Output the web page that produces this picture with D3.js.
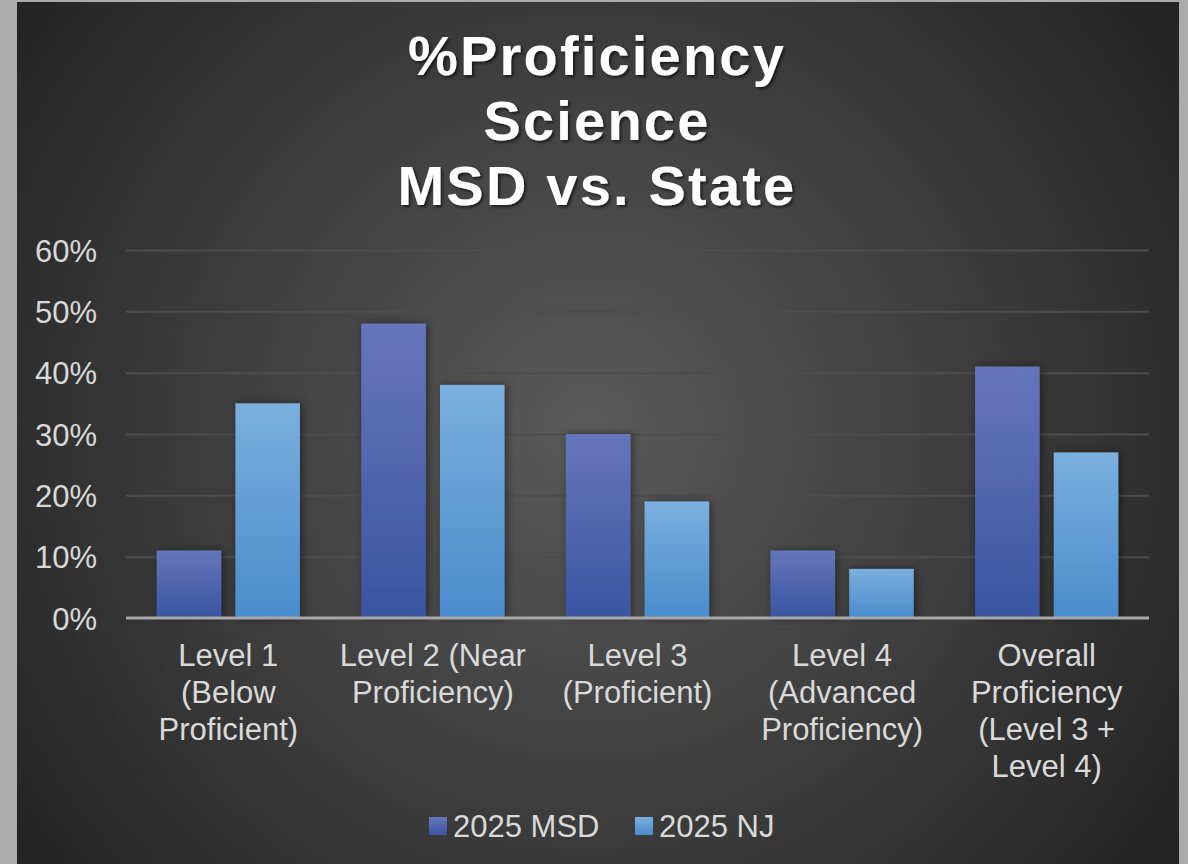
<!DOCTYPE html>
<html>
<head>
<meta charset="utf-8">
<script src="https://cdn.jsdelivr.net/npm/d3@7"></script>
<style>
  body { margin: 0; background: #ababab; }
  text { font-family: "Liberation Sans", Arial, sans-serif; }
</style>
</head>
<body>
<div class="plot"></div>
<script>
// data
const categories = ["Level 1 (Below Proficient)", "Level 2 (Near Proficiency)", "Level 3 (Proficient)",
  "Level 4 (Advanced Proficiency)", "Overall Proficiency (Level 3 + Level 4)"];
const categoryLines = [
  ["Level 1", "(Below", "Proficient)"],
  ["Level 2 (Near", "Proficiency)"],
  ["Level 3", "(Proficient)"],
  ["Level 4", "(Advanced", "Proficiency)"],
  ["Overall", "Proficiency", "(Level 3 +", "Level 4)"]
];
const seriesNames = ["2025 MSD", "2025 NJ"];
const msd = [0.11, 0.48, 0.30, 0.11, 0.41];
const nj = [0.35, 0.38, 0.19, 0.08, 0.27];
const yTicks = [0, 0.1, 0.2, 0.3, 0.4, 0.5, 0.6];
const titleLines = ["%Proficiency", "Science", "MSD vs. State"];

const W = 1188, H = 864;
const margin = {top: 250, right: 39, bottom: 246, left: 126};
const w = W - margin.left - margin.right;
const h = H - margin.top - margin.bottom;

const svg = d3.select(".plot")
  .append("svg")
    .attr("width", W)
    .attr("height", H)
    .style("display", "block");

const defs = svg.append("defs");

// panel background gradient
const bg = defs.append("radialGradient")
  .attr("id", "bg")
  .attr("gradientUnits", "userSpaceOnUse")
  .attr("cx", 590).attr("cy", 430).attr("r", 720);
bg.append("stop").attr("offset", "0%").attr("stop-color", "#5a5a5a");
bg.append("stop").attr("offset", "100%").attr("stop-color", "#232323");

// bar gradients
const colors = [["#6676bb", "#3a54a2"], ["#7bafde", "#4a8ccd"]];
colors.forEach((c, i) => {
  const g = defs.append("linearGradient")
    .attr("id", "bar" + i)
    .attr("x1", 0).attr("y1", 0).attr("x2", 0).attr("y2", 1);
  g.append("stop").attr("offset", "0%").attr("stop-color", c[0]);
  g.append("stop").attr("offset", "100%").attr("stop-color", c[1]);
});

const shadow = defs.append("filter").attr("id", "shadow")
  .attr("x", "-30%").attr("y", "-10%").attr("width", "160%").attr("height", "120%");
shadow.append("feDropShadow")
  .attr("dx", 2).attr("dy", 0).attr("stdDeviation", 4)
  .attr("flood-color", "#000").attr("flood-opacity", 0.45);

const tshadow = defs.append("filter").attr("id", "tshadow");
tshadow.append("feDropShadow")
  .attr("dx", 2).attr("dy", 2).attr("stdDeviation", 1.5)
  .attr("flood-color", "#000").attr("flood-opacity", 0.6);

svg.append("rect")
  .attr("x", 17).attr("y", 2)
  .attr("width", 1162).attr("height", H)
  .attr("fill", "url(#bg)");

// title
svg.append("text")
  .attr("x", 597)
  .attr("y", 75)
  .attr("text-anchor", "middle")
  .attr("fill", "#ffffff")
  .attr("filter", "url(#tshadow)")
  .style("font-size", "56px")
  .style("font-weight", "bold")
  .style("letter-spacing", "2.2px")
  .selectAll("tspan")
  .data(titleLines)
  .enter()
  .append("tspan")
    .attr("x", 597)
    .attr("dy", (d, i) => i === 0 ? 0 : 65)
    .text(d => d);

const g = svg.append("g")
  .attr("transform", "translate(" + margin.left + "," + margin.top + ")");

// scales
const x0 = d3.scaleBand().domain(categories).range([0, w]);
const groupW = x0.bandwidth() * 0.70;
const x1 = d3.scaleBand().domain(seriesNames)
  .range([(x0.bandwidth() - groupW) / 2, (x0.bandwidth() + groupW) / 2])
  .paddingInner(0.18);
const y = d3.scaleLinear().domain([0, 0.6]).range([h, 0]);

// gridlines
g.append("g")
  .attr("class", "grid")
  .call(d3.axisLeft(y).tickValues(yTicks.slice(1)).tickSize(-w).tickFormat(""))
  .call(s => s.select(".domain").remove())
  .selectAll("line")
    .attr("stroke", "#4d4d4d")
    .attr("stroke-width", 2);

// y axis labels
g.append("g")
  .attr("id", "y-axis")
  .call(d3.axisLeft(y).tickValues(yTicks).tickSize(0).tickPadding(29).tickFormat(d3.format(".0%")))
  .call(s => s.select(".domain").remove())
  .selectAll("text")
    .attr("fill", "#d9d9d9")
    .style("font-size", "31px")
    .attr("dy", "0.36em");

// bars
const rows = categories.map((c, i) => ({cat: c, vals: [msd[i], nj[i]]}));
const groups = g.selectAll(".group")
  .data(rows)
  .enter()
  .append("g")
    .attr("class", "group")
    .attr("transform", d => "translate(" + x0(d.cat) + ",0)");

groups.selectAll("rect")
  .data(d => d.vals.map((v, i) => ({s: seriesNames[i], v: v, i: i})))
  .enter()
  .append("rect")
    .attr("x", d => x1(d.s))
    .attr("y", d => y(d.v))
    .attr("width", x1.bandwidth())
    .attr("height", d => h - y(d.v))
    .attr("fill", d => "url(#bar" + d.i + ")")
    .attr("filter", "url(#shadow)");

// x axis line
g.append("line")
  .attr("x1", 0).attr("x2", w)
  .attr("y1", y(0)).attr("y2", y(0))
  .attr("stroke", "#a8a8a8")
  .attr("stroke-width", 3);

// x axis labels
const xAxis = g.append("g")
  .attr("id", "x-axis")
  .attr("transform", "translate(0," + h + ")")
  .call(d3.axisBottom(x0).tickSize(0).tickFormat(""))
  .call(s => s.select(".domain").remove());

xAxis.selectAll(".tick text")
  .attr("fill", "#d9d9d9")
  .style("font-size", "31px")
  .attr("y", 48)
  .attr("dy", 0)
  .each(function(d, i) {
    const t = d3.select(this);
    categoryLines[i].forEach((line, j) => {
      t.append("tspan")
        .attr("x", 0)
        .attr("dy", j === 0 ? 0 : 37)
        .text(line);
    });
  });

// legend
const legendX = [429, 635];
const legend = svg.append("g").attr("id", "legend");
seriesNames.forEach((s, i) => {
  legend.append("rect")
    .attr("x", legendX[i]).attr("y", 817)
    .attr("width", 18).attr("height", 18)
    .attr("fill", "url(#bar" + i + ")");
  legend.append("text")
    .attr("x", legendX[i] + 24).attr("y", 837)
    .attr("fill", "#d9d9d9")
    .style("font-size", "31px")
    .text(s);
});
</script>
</body>
</html>
